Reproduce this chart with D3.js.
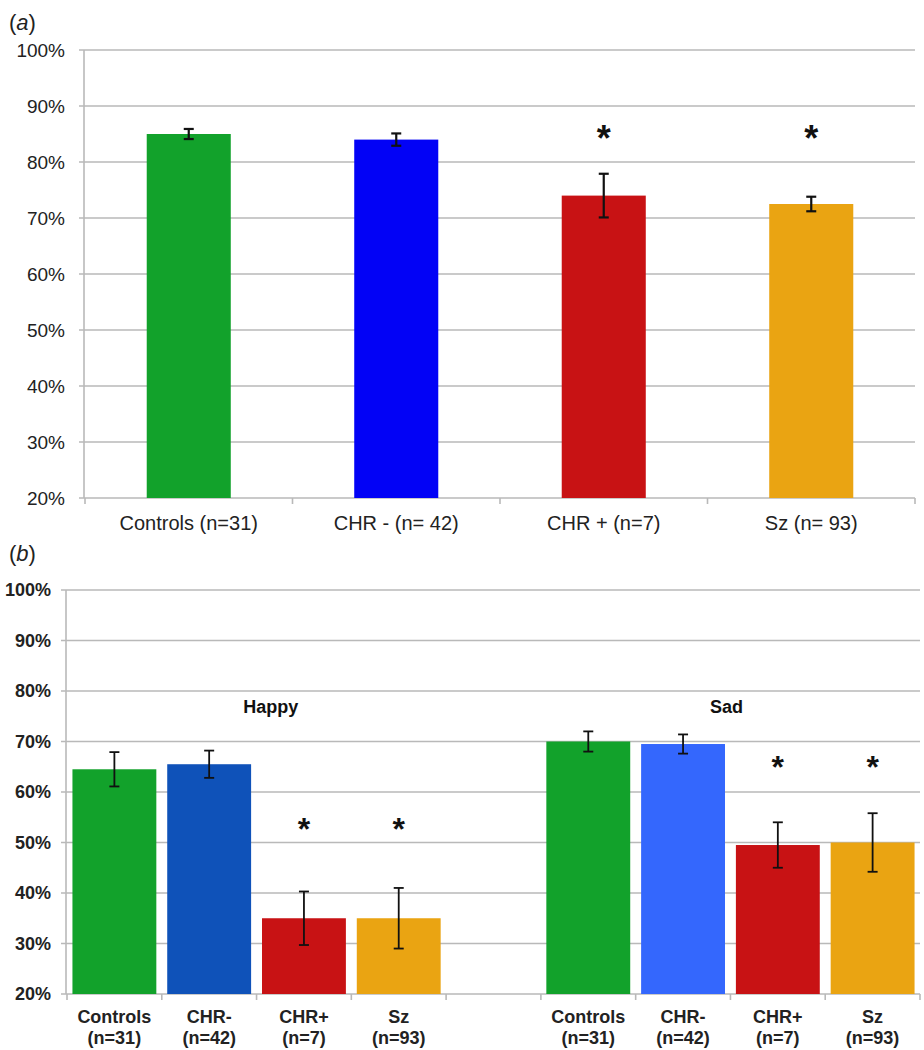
<!DOCTYPE html>
<html>
<head>
<meta charset="utf-8">
<script src="https://cdn.jsdelivr.net/npm/d3@7"></script>
<style>
  html, body { margin: 0; padding: 0; background: #fff; }
  svg { display: block; font-family: "Liberation Sans", Arial, sans-serif; }
</style>
</head>
<body>
<svg id="chart" width="924" height="1050"></svg>
<script>
// ---------- Data ----------
// Panel (a)
const catsA = ["Controls (n=31)", "CHR - (n= 42)", "CHR + (n=7)", "Sz (n= 93)"];
const valsA = [85, 84, 74, 72.5];
const errA = [0.9, 1.1, 3.9, 1.3];
const colorsA = ["#12a22b", "#0202f6", "#c81214", "#eaa412"];
const sigA = [false, false, true, true];
const starLevelA = 85.5;

// Panel (b)
const groupsB = ["Happy", "Sad"];
const catsB = [
  ["Controls", "(n=31)"], ["CHR-", "(n=42)"], ["CHR+", "(n=7)"], ["Sz", "(n=93)"], null,
  ["Controls", "(n=31)"], ["CHR-", "(n=42)"], ["CHR+", "(n=7)"], ["Sz", "(n=93)"]
];
const valsB = [64.5, 65.5, 35, 35, null, 70, 69.5, 49.5, 50];
const errB = [3.4, 2.7, 5.3, 6, null, 2, 1.9, 4.5, 5.8];
const colorsB = ["#12a22b", "#0f52b9", "#c81214", "#eaa412", null, "#12a22b", "#3467fd", "#c81214", "#eaa412"];
const sigB = [false, false, true, true, false, false, false, true, true];
const starLevelB = [54, 66.3]; // happy, sad
const groupLabelLevel = 75.6;

const yTicks = [20, 30, 40, 50, 60, 70, 80, 90, 100];

// ---------- Drawing ----------
const svg = d3.select("#chart");
const gridColor = "#b9b9b9";

// ===== Panel (a) =====
{
  const x0 = 85, x1 = 915, yTop = 50, yBot = 498;
  const x = d3.scaleBand().domain(catsA).range([x0, x1]).padding(0);
  const y = d3.scaleLinear().domain([20, 100]).range([yBot, yTop]);
  const g = svg.append("g");

  // title
  const t = g.append("text").attr("x", 9).attr("y", 30).attr("font-size", 22).attr("fill", "#222");
  t.append("tspan").text("(");
  t.append("tspan").attr("font-style", "italic").text("a");
  t.append("tspan").text(")");

  // gridlines
  g.selectAll("line.grid").data(yTicks).join("line")
    .attr("x1", x0 - 6).attr("x2", x1)
    .attr("y1", d => y(d)).attr("y2", d => y(d))
    .attr("stroke", gridColor).attr("stroke-width", 1.6);
  // y axis line
  g.append("line").attr("x1", x0 - 1).attr("x2", x0 - 1).attr("y1", yTop).attr("y2", yBot)
    .attr("stroke", gridColor).attr("stroke-width", 1.6);
  // x ticks
  const bounds = catsA.map(c => x(c)).concat([x1]);
  g.selectAll("line.xt").data(bounds).join("line")
    .attr("x1", d => d).attr("x2", d => d).attr("y1", yBot).attr("y2", yBot + 6)
    .attr("stroke", gridColor).attr("stroke-width", 1.6);
  // y labels
  g.selectAll("text.yl").data(yTicks).join("text")
    .attr("x", 65).attr("y", d => y(d)).attr("dy", "0.36em")
    .attr("text-anchor", "end").attr("font-size", 19).attr("fill", "#222")
    .text(d => d + "%");

  const bw = x.bandwidth() * 0.405;
  const cx = c => x(c) + x.bandwidth() / 2;
  // bars
  g.selectAll("rect.bar").data(catsA).join("rect")
    .attr("x", c => cx(c) - bw / 2).attr("width", bw)
    .attr("y", (c, i) => y(valsA[i])).attr("height", (c, i) => y(20) - y(valsA[i]))
    .attr("fill", (c, i) => colorsA[i]);
  // error bars
  const eb = g.selectAll("g.err").data(catsA).join("g");
  eb.append("line").attr("x1", cx).attr("x2", cx)
    .attr("y1", (c, i) => y(valsA[i] + errA[i])).attr("y2", (c, i) => y(valsA[i] - errA[i]))
    .attr("stroke", "#111").attr("stroke-width", 2.2);
  [1, -1].forEach(s => {
    eb.append("line").attr("x1", c => cx(c) - 5).attr("x2", c => cx(c) + 5)
      .attr("y1", (c, i) => y(valsA[i] + s * errA[i])).attr("y2", (c, i) => y(valsA[i] + s * errA[i]))
      .attr("stroke", "#111").attr("stroke-width", 2.2);
  });
  // asterisks
  g.selectAll("text.star").data(catsA.filter((c, i) => sigA[i])).join("text")
    .attr("x", cx).attr("y", y(starLevelA) + 20)
    .attr("text-anchor", "middle").attr("font-size", 36).attr("font-weight", "bold").attr("fill", "#111")
    .text("*");
  // x labels
  g.selectAll("text.xl").data(catsA).join("text")
    .attr("x", cx).attr("y", 530)
    .attr("text-anchor", "middle").attr("font-size", 20).attr("fill", "#222")
    .text(d => d);
}

// ===== Panel (b) =====
{
  const x0 = 67, x1 = 920, yTop = 590, yBot = 994;
  const idx = d3.range(catsB.length);
  const x = d3.scaleBand().domain(idx).range([x0, x1]).padding(0);
  const y = d3.scaleLinear().domain([20, 100]).range([yBot, yTop]);
  const g = svg.append("g");

  const t = g.append("text").attr("x", 9).attr("y", 561).attr("font-size", 22).attr("fill", "#222");
  t.append("tspan").text("(");
  t.append("tspan").attr("font-style", "italic").text("b");
  t.append("tspan").text(")");

  g.selectAll("line.grid").data(yTicks).join("line")
    .attr("x1", x0 - 6).attr("x2", x1)
    .attr("y1", d => y(d)).attr("y2", d => y(d))
    .attr("stroke", gridColor).attr("stroke-width", 1.6);
  g.append("line").attr("x1", x0 - 1).attr("x2", x0 - 1).attr("y1", yTop).attr("y2", yBot)
    .attr("stroke", gridColor).attr("stroke-width", 1.6);
  const bounds = idx.map(i => x(i)).concat([x1]);
  g.selectAll("line.xt").data(bounds).join("line")
    .attr("x1", d => d).attr("x2", d => d).attr("y1", yBot).attr("y2", yBot + 6)
    .attr("stroke", gridColor).attr("stroke-width", 1.6);
  g.selectAll("text.yl").data(yTicks).join("text")
    .attr("x", 51).attr("y", d => y(d)).attr("dy", "0.36em")
    .attr("text-anchor", "end").attr("font-size", 18).attr("font-weight", "bold").attr("fill", "#222")
    .text(d => d + "%");

  const bw = x.bandwidth() * 0.885;
  const cx = i => x(i) + x.bandwidth() / 2;
  const real = idx.filter(i => valsB[i] !== null);

  g.selectAll("rect.bar").data(real).join("rect")
    .attr("x", i => cx(i) - bw / 2).attr("width", bw)
    .attr("y", i => y(valsB[i])).attr("height", i => y(20) - y(valsB[i]))
    .attr("fill", i => colorsB[i]);

  const eb = g.selectAll("g.err").data(real).join("g");
  eb.append("line").attr("x1", cx).attr("x2", cx)
    .attr("y1", i => y(valsB[i] + errB[i])).attr("y2", i => y(valsB[i] - errB[i]))
    .attr("stroke", "#111").attr("stroke-width", 1.8);
  [1, -1].forEach(s => {
    eb.append("line").attr("x1", i => cx(i) - 5).attr("x2", i => cx(i) + 5)
      .attr("y1", i => y(valsB[i] + s * errB[i])).attr("y2", i => y(valsB[i] + s * errB[i]))
      .attr("stroke", "#111").attr("stroke-width", 1.8);
  });

  g.selectAll("text.star").data(real.filter(i => sigB[i])).join("text")
    .attr("x", cx).attr("y", i => y(starLevelB[i < 4 ? 0 : 1]) + 18)
    .attr("text-anchor", "middle").attr("font-size", 32).attr("font-weight", "bold").attr("fill", "#111")
    .text("*");

  // group labels
  const groupCenters = [x(1) + x.bandwidth() * 1.15, (x(5) + x(8) + x.bandwidth()) / 2 - 4];
  g.selectAll("text.grp").data(groupsB).join("text")
    .attr("x", (d, i) => groupCenters[i]).attr("y", y(groupLabelLevel))
    .attr("text-anchor", "middle").attr("font-size", 18).attr("font-weight", "bold").attr("fill", "#111")
    .text(d => d);

  const xl = g.selectAll("text.xl").data(real).join("text")
    .attr("text-anchor", "middle").attr("font-size", 18).attr("font-weight", "bold").attr("fill", "#222");
  xl.append("tspan").attr("x", cx).attr("y", 1023).text(i => catsB[i][0]);
  xl.append("tspan").attr("x", cx).attr("y", 1044).text(i => catsB[i][1]);
}
</script>
</body>
</html>
